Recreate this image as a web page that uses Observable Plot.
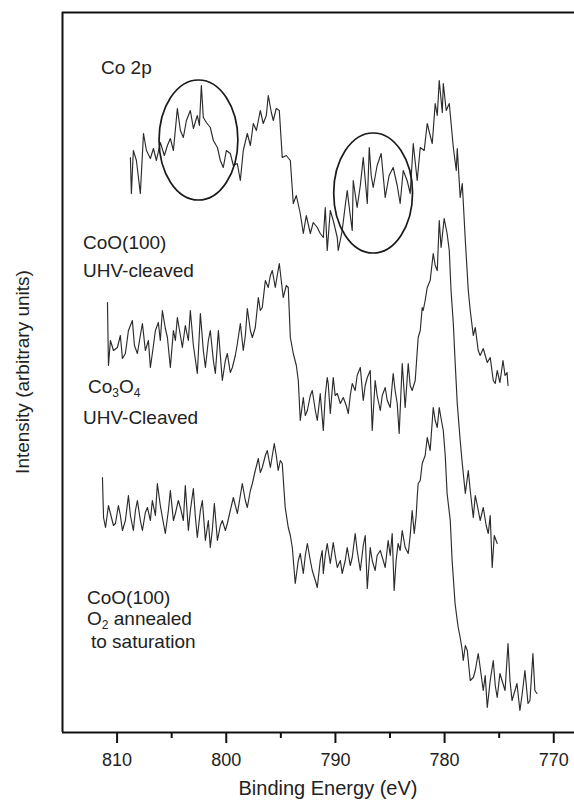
<!DOCTYPE html>
<html>
<head>
<meta charset="utf-8">
<script src="https://cdn.jsdelivr.net/npm/d3@7"></script>
<script src="https://cdn.jsdelivr.net/npm/@observablehq/plot@0.6"></script>
<style>
  html, body { margin: 0; padding: 0; background: #fff; }
  #chart { position: relative; width: 574px; height: 804px; }
</style>
</head>
<body>
<div id="chart"></div>
<script>
// ---------- data (binding energy in eV, intensity in arbitrary units) ----------
const xDomain = [815, 768.1];
const yDomain = [0, 720];
const majorTicks = [810, 800, 790, 780, 770];
const minorTicks = [805, 795, 785, 775];

// CoO(100) UHV-cleaved (top spectrum)
const coUhvBE = [808.78,808.69,808.51,808.23,807.87,807.58,807.31,806.95,806.67,806.40,806.04,805.67,805.39,805.12,804.84,804.48,804.20,803.93,803.65,803.29,803.01,802.65,802.46,802.28,802.10,801.82,801.46,801.18,800.81,800.54,800.27,799.99,799.63,799.35,798.99,798.71,798.44,798.07,797.79,797.52,797.24,796.88,796.61,796.33,796.15,795.87,795.69,795.42,795.14,794.87,794.50,794.13,793.86,793.58,793.22,792.94,792.67,792.30,792.03,791.66,791.39,791.11,790.93,790.75,790.47,790.20,789.83,789.74,789.38,789.10,788.92,788.64,788.46,788.37,788.01,787.72,787.45,787.08,786.90,786.72,786.54,786.18,785.81,785.44,785.08,784.71,784.34,784.07,783.79,783.43,783.15,782.87,782.51,782.23,781.87,781.59,781.32,781.13,780.86,780.67,780.49,780.21,780.12,779.85,779.57,779.20,778.93,778.84,778.57,778.38,778.10,777.83,777.65,777.37,777.19,776.92,776.74,776.46,776.09,775.82,775.54,775.36,775.18,774.93,774.65,774.46,774.28,774.19];
const coUhvI = [575,539,582,572,539,599,582,574,584,572,590,577,587,594,582,624,602,595,612,622,604,617,607,647,615,610,605,592,585,572,565,582,579,567,569,552,582,599,587,609,602,622,609,617,637,620,612,624,622,575,577,572,529,537,519,499,517,499,510,505,499,495,525,482,522,512,495,482,502,527,542,517,502,552,525,547,575,529,585,557,545,567,579,535,557,565,547,529,562,552,539,589,552,585,582,609,597,589,629,617,652,620,649,622,629,585,562,584,535,549,492,442,422,397,405,382,377,384,370,375,352,349,362,350,372,357,360,347];

// Co3O4 UHV-cleaved (middle spectrum)
const co3o4BE = [810.88,810.79,810.61,810.33,809.97,809.70,809.51,809.24,808.96,808.60,808.41,808.14,807.87,807.68,807.41,807.13,806.95,806.67,806.49,806.22,806.04,805.85,805.58,805.39,805.12,804.84,804.66,804.48,804.20,804.02,803.75,803.47,803.29,803.01,802.65,802.37,802.10,801.91,801.64,801.46,801.18,801.00,800.72,800.54,800.36,800.08,799.90,799.63,799.44,799.17,798.98,798.71,798.44,798.25,798.07,797.79,797.61,797.34,797.06,796.88,796.70,796.42,796.15,795.96,795.78,795.51,795.33,795.14,794.96,794.78,794.50,794.32,794.13,793.86,793.58,793.40,793.22,792.94,792.76,792.57,792.30,792.12,791.84,791.66,791.39,791.11,790.93,790.75,790.66,790.47,790.20,790.02,789.83,789.55,789.28,789.01,788.82,788.64,788.46,788.19,788.01,787.72,787.45,787.27,787.08,786.81,786.63,786.36,786.18,785.89,785.71,785.44,785.25,784.98,784.71,784.53,784.34,784.16,783.88,783.61,783.33,783.15,782.97,782.69,782.42,782.23,782.05,781.96,781.78,781.59,781.32,781.04,780.86,780.67,780.49,780.32,780.04,779.77,779.57,779.41,779.20,779.04,778.84,778.57,778.38,778.10,777.83,777.65,777.37,777.19,777.00,776.74,776.46,776.19,776.00,775.82,775.64,775.45,775.18];
const co3o4I = [430,367,392,382,385,397,374,379,402,412,387,379,397,409,382,392,365,387,402,410,392,422,404,395,365,402,392,415,397,385,407,392,422,387,359,419,382,365,392,402,372,359,402,377,352,372,379,360,365,377,389,409,382,397,424,402,395,405,435,422,425,452,445,457,462,445,457,469,452,435,447,445,395,379,367,352,312,335,317,322,337,342,322,312,339,302,337,355,349,319,355,337,339,329,335,327,319,337,349,342,357,365,332,347,355,362,302,352,337,322,337,345,332,325,359,342,329,299,369,325,369,347,342,352,395,402,425,422,432,445,452,479,467,462,512,485,514,499,482,442,409,372,329,292,269,239,262,242,215,237,227,212,225,207,199,217,165,197,189];

// CoO(100) O2 annealed to saturation (bottom spectrum)
const coO2BE = [811.34,811.24,811.06,810.79,810.61,810.33,810.15,809.88,809.70,809.51,809.24,808.96,808.78,808.51,808.32,808.14,807.87,807.68,807.41,807.22,806.95,806.77,806.49,806.31,806.04,805.85,805.58,805.30,805.12,804.84,804.66,804.39,804.20,803.93,803.75,803.47,803.29,803.01,802.84,802.65,802.37,802.19,801.91,801.64,801.46,801.28,801.09,800.81,800.54,800.36,800.08,799.90,799.63,799.35,799.17,798.98,798.71,798.53,798.25,798.07,797.79,797.61,797.34,797.06,796.88,796.70,796.42,796.24,795.96,795.78,795.60,795.42,795.24,795.05,794.87,794.60,794.32,794.13,793.95,793.68,793.40,793.22,792.94,792.76,792.57,792.30,792.12,791.84,791.66,791.39,791.21,791.11,790.93,790.75,790.47,790.20,790.02,789.83,789.55,789.38,789.10,788.92,788.64,788.46,788.19,788.01,787.72,787.45,787.27,787.08,786.81,786.63,786.36,786.18,785.89,785.62,785.44,785.17,784.98,784.80,784.62,784.44,784.26,784.07,783.88,783.61,783.33,783.15,782.97,782.78,782.60,782.51,782.42,782.23,782.05,781.78,781.59,781.32,781.04,780.86,780.67,780.49,780.32,780.12,779.94,779.77,779.48,779.31,779.04,778.84,778.75,778.57,778.38,778.29,778.10,777.92,777.65,777.37,777.19,776.92,776.74,776.46,776.28,776.09,775.82,775.54,775.36,775.18,774.93,774.74,774.46,774.19,774.01,773.82,773.55,773.37,773.10,772.91,772.64,772.36,772.18,771.91,771.73,771.54];
const coO2I = [255,215,205,227,219,207,209,227,217,202,212,237,217,202,222,232,212,202,220,225,212,232,217,249,227,215,199,222,242,212,219,232,225,212,247,202,222,244,217,195,222,232,192,212,185,202,229,192,207,212,202,209,222,235,227,219,237,249,232,225,242,249,262,274,260,265,277,282,265,277,289,277,262,272,269,225,205,197,185,149,172,179,159,177,189,172,162,152,145,172,182,159,177,189,169,190,177,165,172,159,172,185,167,175,199,182,162,187,197,144,185,172,162,177,182,172,165,192,177,199,142,172,189,182,202,185,179,197,222,199,217,235,249,252,269,277,295,282,325,312,305,325,314,302,277,239,212,172,129,112,105,95,82,72,87,82,52,55,62,79,65,42,57,25,52,72,47,35,59,52,42,89,52,32,42,49,22,37,62,29,32,79,42,39];

// highlighted satellite regions (ellipse annotations)
const circleBE = [802.5, 786.5];
const circleI = [592, 539];
const circleHalfWidthEV = 3.61;
const circleHalfHeightI = 60;

// ---------- chart ----------
const toRows = (bx, iy) => bx.map((b, k) => ({be: b, i: iy[k]}));
const lineStyle = {x: "be", y: "i", stroke: "#2b2b2b", strokeWidth: 1.15};

const ellipses = (index, scales) => {
  const g = d3.create("svg:g");
  const rx = Math.abs(scales.x(circleBE[0] + circleHalfWidthEV) - scales.x(circleBE[0]));
  const ry = Math.abs(scales.y(circleI[0] + circleHalfHeightI) - scales.y(circleI[0]));
  circleBE.forEach((b, k) => {
    g.append("ellipse")
      .attr("cx", scales.x(b)).attr("cy", scales.y(circleI[k]))
      .attr("rx", rx).attr("ry", ry)
      .attr("fill", "none").attr("stroke", "#1a1a1a").attr("stroke-width", 1.7);
  });
  return g.node();
};

const chart = Plot.plot({
  width: 574,
  height: 804,
  marginTop: 12,
  marginBottom: 72,
  marginLeft: 62,
  marginRight: 0,
  style: {fontFamily: "'Liberation Sans', Arial, sans-serif", color: "#222", background: "#fff"},
  x: {domain: xDomain},
  y: {domain: yDomain, axis: null},
  marks: [
    Plot.ruleY(yDomain, {stroke: "#111", strokeWidth: 2}),
    Plot.ruleX([xDomain[0]], {stroke: "#111", strokeWidth: 2}),
    Plot.axisX(majorTicks, {tickSize: 11, tickPadding: 10, fontSize: 18, strokeWidth: 2, stroke: "#111", fill: "#222", label: null}),
    Plot.ruleX(minorTicks, {y1: yDomain[0], y2: yDomain[0], insetBottom: -6, stroke: "#111", strokeWidth: 2}),
    Plot.line(toRows(coUhvBE, coUhvI), lineStyle),
    Plot.line(toRows(co3o4BE, co3o4I), lineStyle),
    Plot.line(toRows(coO2BE, coO2I), lineStyle),
    ellipses
  ]
});

document.getElementById("chart").appendChild(chart);

// ---------- text annotations ----------
const svg = d3.select(chart);
const font = "'Liberation Sans', Arial, sans-serif";
function label(x, y, parts, size = 19) {
  const t = svg.append("text").attr("x", x).attr("y", y).attr("text-anchor", "start")
    .attr("font-family", font).attr("font-size", size).attr("fill", "#222");
  let shift = 0;
  parts.forEach(p => {
    if (typeof p === "string") {
      t.append("tspan").attr("dy", -shift).text(p);
      shift = 0;
    } else {
      t.append("tspan").attr("dy", 4).attr("font-size", 12).text(p.sub);
      shift = 4;
    }
  });
  return t;
}
label(101, 74, ["Co 2p"]);
label(83, 249, ["CoO(100)"]);
label(83, 277, ["UHV-cleaved"]);
label(88, 393, ["Co", {sub: "3"}, "O", {sub: "4"}]);
label(83, 424, ["UHV-Cleaved"]);
label(87, 604, ["CoO(100)"]);
label(87, 625, ["O", {sub: "2"}, " annealed"]);
label(91, 648, ["to saturation"]);

svg.append("text").attr("x", 328).attr("y", 795).attr("text-anchor", "middle")
  .attr("font-family", font).attr("font-size", 20).attr("fill", "#222")
  .text("Binding Energy (eV)");
svg.append("text").attr("transform", "translate(29,372) rotate(-90)").attr("text-anchor", "middle")
  .attr("font-family", font).attr("font-size", 19).attr("fill", "#222")
  .text("Intensity (arbitrary units)");
</script>
</body>
</html>
